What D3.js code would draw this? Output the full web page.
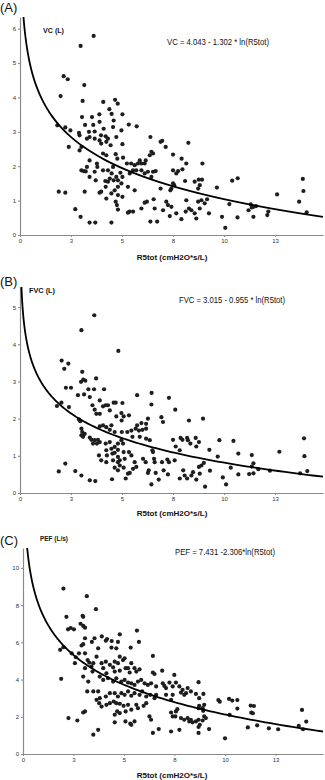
<!DOCTYPE html>
<html>
<head>
<meta charset="utf-8">
<script src="https://cdn.jsdelivr.net/npm/d3@7"></script>
<style>
  body { margin: 0; background: #fff; }
  svg { display: block; }
  text { font-family: "Liberation Sans", Arial, sans-serif; }
</style>
</head>
<body>
<svg id="chart" width="325" height="780"></svg>
<script>
// ---- data ----
const xTickValues = [0, 2.5, 5, 7.5, 10, 12.5];
const xTickLabels = ["0", "3", "5", "8", "10", "13"];
const xTitle = "R5tot (cmH2O*s/L)";

const vcTicks = [0, 1, 2, 3, 4, 5, 6];
const fvcTicks = [0, 1, 2, 3, 4, 5];
const pefTicks = [0, 2, 4, 6, 8, 10];

// fit: y = a - b * ln(R5tot)
const vcFit = [4.043, 1.302];
const fvcFit = [3.015, 0.955];
const pefFit = [7.431, 2.306];

const vcPoints = [
  [2.97,5.50],[3.61,5.79],[2.14,4.62],[2.34,4.53],[3.15,4.36],[1.99,4.04],[3.07,3.90],[4.08,3.87],[4.66,3.93],[4.79,3.82],
  [4.38,3.66],[4.49,3.52],[5.02,3.51],[3.89,3.51],[3.04,3.43],[3.53,3.43],[4.59,3.33],[5.33,3.21],[5.72,3.16],[1.83,3.19],
  [2.22,3.13],[3.19,3.20],[3.59,3.20],[2.47,3.04],[2.89,2.97],[2.92,2.90],[3.38,3.00],[3.66,3.01],[3.90,3.29],[4.10,3.09],
  [3.97,2.90],[4.20,2.87],[4.31,2.80],[4.56,3.14],[4.72,2.85],[4.97,3.04],[3.41,2.85],[3.66,2.80],[3.90,2.75],[3.98,2.66],
  [4.23,2.71],[4.44,2.61],[3.01,2.56],[3.28,2.80],[2.39,2.56],[2.92,2.46],[5.02,2.64],[6.39,2.85],[6.89,2.71],[6.97,2.74],
  [8.25,2.68],[4.07,2.37],[4.23,2.32],[4.69,2.35],[4.77,2.22],[3.41,2.17],[3.77,2.08],[3.79,1.98],[3.66,1.84],[4.07,1.88],
  [4.31,1.88],[4.49,1.79],[4.56,1.98],[4.72,1.69],[5.05,2.25],[5.24,2.08],[5.45,2.08],[5.62,2.03],[5.78,2.08],[5.87,2.17],
  [5.95,2.08],[6.11,2.08],[6.16,2.17],[6.36,2.32],[6.52,2.37],[6.44,2.42],[5.54,1.88],[5.70,1.88],[5.38,1.79],[5.95,1.88],
  [6.27,1.84],[6.52,1.84],[6.44,1.69],[7.14,2.56],[7.50,2.34],[7.50,1.88],[7.75,1.86],[7.92,2.22],[8.15,2.08],[7.96,1.91],
  [7.66,1.79],[8.94,2.08],[8.09,1.57],[8.56,1.55],[8.76,1.61],[8.92,1.61],[8.73,1.35],[8.81,1.45],[7.50,1.50],[7.56,1.45],
  [7.42,1.35],[7.37,1.30],[6.89,1.35],[6.65,1.86],[6.11,1.79],[5.62,1.30],[5.29,1.40],[4.97,1.50],[4.80,1.40],[4.64,1.30],
  [4.48,1.21],[4.80,1.16],[5.02,1.11],[4.69,0.97],[4.23,1.06],[3.98,1.26],[3.90,1.23],[4.20,1.40],[4.31,1.55],[4.18,1.57],
  [4.40,1.64],[4.59,1.59],[4.80,1.59],[5.02,1.69],[4.92,1.81],[3.17,1.26],[1.90,1.26],[2.22,1.23],[2.71,0.75],[2.97,0.53],
  [3.41,0.36],[3.69,0.36],[4.48,0.36],[4.80,0.74],[4.75,0.87],[5.29,0.65],[5.37,0.68],[5.54,0.68],[5.95,0.77],[6.11,0.94],
  [6.22,0.97],[6.39,0.39],[6.60,0.77],[6.55,1.04],[6.72,0.39],[7.17,0.97],[7.25,0.87],[7.01,0.72],[7.42,0.82],[7.34,0.55],
  [7.66,0.63],[7.91,0.46],[8.12,0.68],[8.15,1.01],[8.28,0.77],[8.40,0.72],[8.56,0.63],[8.64,0.48],[8.81,0.77],[8.73,0.97],
  [8.89,1.01],[9.05,0.92],[9.17,1.04],[9.26,0.63],[3.01,1.88],[3.12,1.86],[3.22,1.85],[3.41,1.69],[3.71,1.59],[3.28,1.98],
  [9.65,1.38],[10.40,1.58],[10.67,1.65],[9.90,0.53],[10.06,0.21],[10.26,0.90],[10.66,0.51],[11.20,0.72],[11.31,0.89],[11.36,0.80],
  [11.44,0.82],[11.57,0.84],[11.44,0.53],[12.12,0.58],[12.17,0.68],[12.60,1.18],[13.86,1.63],[13.89,1.28],[13.68,0.97],[14.05,0.66]
];

const fvcPoints = [
  [3.64,4.78],[3.01,4.38],[4.82,3.82],[2.04,3.56],[2.37,3.48],[2.17,3.34],[3.05,3.26],[3.73,3.08],[2.99,2.99],[3.10,3.05],
  [3.20,3.02],[2.25,2.83],[2.50,2.83],[3.35,2.79],[3.63,2.79],[4.12,2.79],[1.81,2.34],[2.03,2.43],[2.40,2.31],[2.84,2.63],
  [3.14,2.65],[3.42,2.58],[3.91,2.49],[3.55,2.36],[3.66,2.24],[3.74,2.13],[3.91,2.13],[4.07,2.33],[4.20,2.36],[4.31,2.36],
  [4.40,2.22],[4.59,2.43],[4.69,2.43],[5.02,2.42],[4.97,2.15],[5.08,2.06],[5.34,2.09],[4.72,2.06],[4.98,1.95],[5.74,2.63],
  [6.44,2.38],[6.45,2.69],[7.30,2.56],[7.61,2.24],[6.93,2.04],[7.01,1.91],[8.28,1.95],[8.97,2.00],[6.27,2.00],[6.18,1.86],
  [5.95,1.88],[5.74,1.82],[5.67,1.73],[5.83,1.68],[6.00,1.70],[6.18,1.73],[5.46,1.68],[5.26,1.64],[5.51,1.51],[4.99,1.64],
  [4.64,1.64],[4.48,1.82],[4.07,1.82],[3.91,1.79],[4.23,1.77],[4.40,1.70],[2.89,1.98],[2.95,1.93],[3.01,1.73],[3.05,1.64],
  [3.01,1.55],[3.17,1.59],[3.09,1.51],[3.42,1.49],[3.50,1.43],[3.66,1.42],[3.82,1.43],[3.91,1.37],[3.58,1.33],[3.77,1.33],
  [4.20,1.33],[4.40,1.37],[4.23,1.15],[4.48,1.19],[4.64,1.24],[4.64,1.08],[4.80,1.33],[4.97,1.42],[5.05,1.33],[4.80,1.16],
  [5.08,1.10],[4.80,0.97],[4.53,1.06],[4.26,1.01],[3.87,1.01],[3.98,0.88],[4.23,0.83],[4.56,0.88],[4.80,0.83],[4.89,0.88],
  [5.13,0.92],[4.89,0.74],[5.08,0.68],[4.64,0.68],[4.80,0.61],[5.34,1.10],[5.46,1.01],[5.62,0.83],[5.70,0.70],[5.54,0.65],
  [5.38,0.54],[5.29,0.52],[5.18,0.39],[6.03,0.92],[6.16,0.83],[5.87,1.51],[6.18,1.46],[6.36,1.42],[6.49,1.15],[6.52,1.10],
  [6.57,0.92],[6.60,0.83],[6.31,0.61],[6.27,0.54],[6.65,0.54],[6.44,0.23],[6.80,0.36],[6.96,0.83],[7.30,0.83],[7.22,0.90],
  [7.04,0.61],[7.25,0.50],[7.50,1.43],[7.63,1.25],[7.58,0.88],[7.83,1.15],[7.87,1.48],[7.96,1.43],[8.19,1.48],[8.23,1.42],
  [8.35,1.33],[8.64,1.25],[8.77,1.37],[8.61,1.48],[8.00,0.61],[8.07,0.47],[7.83,0.39],[8.19,0.39],[8.40,0.47],[8.48,0.56],
  [8.64,0.36],[8.81,0.52],[8.89,0.74],[8.77,0.70],[9.01,0.81],[9.07,0.17],[9.31,0.60],[9.28,1.16],[9.77,1.42],[9.69,0.98],
  [9.94,0.42],[10.10,0.23],[10.46,1.40],[10.70,1.06],[10.33,0.68],[10.70,0.50],[11.23,0.51],[11.36,1.02],[11.44,0.80],[11.36,0.71],
  [11.68,0.64],[11.44,0.53],[12.25,0.60],[12.71,1.11],[13.73,0.53],[13.92,1.47],[13.94,0.99],[14.08,0.59],[1.90,0.58],[2.22,0.79],
  [2.71,0.59],[3.01,0.47],[3.42,0.34],[3.69,0.32],[4.51,0.37]
];

const pefPoints = [
  [2.00,8.89],[3.16,8.48],[3.61,7.78],[2.15,7.37],[2.98,7.37],[2.95,7.43],[2.23,6.70],[2.36,6.77],[2.52,6.70],[2.85,7.00],
  [2.98,6.88],[3.07,6.79],[5.64,6.63],[5.74,6.02],[4.79,6.43],[3.90,6.32],[3.54,6.22],[3.07,6.22],[4.16,6.18],[4.10,6.09],
  [2.90,5.83],[2.98,5.90],[3.41,6.02],[4.39,6.07],[4.70,6.02],[3.72,5.68],[4.38,5.72],[4.62,5.68],[5.33,5.72],[1.84,5.60],
  [2.00,5.74],[2.41,5.41],[1.89,4.04],[2.57,4.88],[2.62,5.20],[2.77,5.41],[3.07,5.41],[3.20,5.05],[3.28,4.91],[3.39,4.70],
  [3.07,4.61],[3.44,4.43],[2.98,4.16],[3.23,3.89],[3.18,3.36],[3.48,4.88],[3.64,5.23],[3.89,4.88],[3.97,4.61],[4.10,4.96],
  [4.30,4.79],[4.46,4.66],[4.54,4.96],[4.70,4.88],[4.79,5.23],[4.95,5.05],[5.03,5.14],[5.08,4.61],[5.20,4.61],[5.28,4.38],
  [5.52,4.61],[5.61,4.43],[5.77,4.55],[5.36,4.88],[4.54,4.43],[4.79,4.48],[4.13,4.34],[3.80,4.16],[3.97,3.98],[4.21,4.07],
  [4.46,3.89],[4.62,4.07],[4.87,3.89],[5.03,3.98],[5.20,3.84],[5.36,3.80],[5.52,3.71],[5.69,3.89],[5.85,3.98],[6.02,3.80],
  [6.18,3.71],[6.34,3.80],[6.43,4.38],[6.43,5.27],[6.51,4.30],[6.59,3.63],[6.89,4.48],[6.92,3.80],[7.00,3.66],[7.25,3.84],
  [7.08,3.54],[7.49,4.25],[7.57,3.84],[7.41,3.63],[7.74,3.63],[7.90,3.45],[8.15,3.54],[8.07,3.27],[7.82,3.30],[8.31,3.36],
  [8.69,3.86],[8.56,3.23],[8.72,3.00],[8.93,3.23],[7.98,3.18],[7.41,3.18],[7.33,2.91],[7.08,3.18],[6.59,3.18],[6.51,3.00],
  [6.30,3.18],[6.10,3.09],[5.90,3.36],[5.77,3.18],[5.52,3.27],[5.36,3.13],[5.20,3.36],[5.03,3.18],[4.87,3.27],[4.70,3.09],
  [4.54,3.27],[4.30,3.27],[4.10,3.09],[3.80,3.00],[3.64,2.91],[3.72,3.36],[3.48,3.36],[3.77,2.73],[3.89,2.55],[4.13,2.64],
  [4.30,2.73],[4.49,2.82],[4.62,2.73],[4.79,2.70],[4.98,2.59],[5.20,2.64],[4.66,2.29],[4.54,2.11],[5.08,2.29],[4.79,2.20],
  [5.36,2.38],[5.61,2.64],[5.69,2.46],[5.97,2.59],[6.10,2.73],[6.26,2.02],[6.34,1.84],[6.43,1.13],[6.72,1.34],[5.52,1.75],
  [5.31,1.63],[5.36,1.57],[5.07,1.75],[4.54,1.70],[3.72,1.30],[3.48,1.04],[2.98,2.23],[3.07,2.29],[2.69,1.80],[2.25,1.93],
  [7.33,2.23],[7.41,2.02],[7.54,2.02],[7.57,2.29],[7.64,2.41],[7.33,1.21],[7.74,1.30],[7.82,1.93],[7.98,1.84],[8.15,1.93],
  [8.23,1.75],[8.31,1.84],[8.39,1.70],[8.56,1.75],[8.69,1.84],[8.69,1.45],[8.69,1.13],[8.75,1.57],[8.89,1.80],[8.97,2.02],
  [9.05,1.93],[9.21,1.34],[8.69,2.46],[8.72,2.59],[8.89,2.46],[8.97,2.64],[8.92,2.32],[9.67,2.90],[9.74,2.81],[10.00,0.84],
  [10.20,2.96],[10.36,2.87],[10.61,2.90],[10.61,2.44],[10.23,2.10],[11.13,1.43],[11.27,2.60],[11.43,2.58],[11.30,2.22],[11.38,2.19],
  [11.59,1.54],[12.17,1.38],[12.63,1.33],[13.65,1.51],[13.81,2.37],[13.86,1.33],[14.02,1.74]
];

// ---- layout ----
const svg = d3.select("#chart");
const xMax = 14.85;

const panels = [
  { tag: "(A)", tagY: 12, yTitle: "VC (L)", yTitleX: 43, yTitleY: 33, yTitleW: 21,
    eq: "VC = 4.043 - 1.302 * ln(R5tot)", eqX: 167, eqY: 45, eqW: 102,
    fit: vcFit, pts: vcPoints, ticks: vcTicks, yMax: 6.34,
    left: 20, top: 17, bottom: 235, xTitleY: 260 },
  { tag: "(B)", tagY: 286, yTitle: "FVC (L)", yTitleX: 29, yTitleY: 293, yTitleW: 26,
    eq: "FVC = 3.015 - 0.955 * ln(R5tot)", eqX: 179, eqY: 303, eqW: 106,
    fit: fvcFit, pts: fvcPoints, ticks: fvcTicks, yMax: 5.54,
    left: 20, top: 287, bottom: 493, xTitleY: 516 },
  { tag: "(C)", tagY: 545, yTitle: "PEF (L/s)", yTitleX: 40, yTitleY: 541, yTitleW: 28,
    eq: "PEF = 7.431 -2.306*ln(R5tot)", eqX: 175, eqY: 555, eqW: 100,
    fit: pefFit, pts: pefPoints, ticks: pefTicks, yMax: 11.07,
    left: 23, top: 548, bottom: 754, xTitleY: 778 }
];

panels.forEach(p => {
  const g = svg.append("g");
  const x = d3.scaleLinear().domain([0, xMax]).range([p.left, 323]);
  const y = d3.scaleLinear().domain([0, p.yMax]).range([p.bottom, p.top]);

  // axes
  const xAxis = g.append("g")
    .attr("transform", `translate(0,${p.bottom})`)
    .call(d3.axisBottom(x).tickValues(xTickValues)
      .tickFormat((d, i) => xTickLabels[i]).tickSize(2).tickSizeOuter(0).tickPadding(2));
  const yAxis = g.append("g")
    .attr("transform", `translate(${p.left},0)`)
    .call(d3.axisLeft(y).tickValues(p.ticks).tickFormat(d3.format("d"))
      .tickSize(2).tickSizeOuter(0).tickPadding(2));

  [xAxis, yAxis].forEach(a => {
    a.select(".domain").attr("stroke", "#8a8a8a").attr("stroke-width", 1.2);
    a.selectAll(".tick line").attr("stroke", "#8a8a8a");
    a.selectAll(".tick text").attr("font-size", 6).attr("fill", "#333")
      .attr("font-family", '"Liberation Sans", Arial, sans-serif');
  });

  // points
  g.append("g").selectAll("circle")
    .data(p.pts)
    .join("circle")
    .attr("cx", d => x(d[0]))
    .attr("cy", d => y(d[1]))
    .attr("r", 2.1)
    .attr("fill", "#1e1e1e");

  // fitted log curve, from where it leaves the top of the axis
  const x0 = Math.exp((p.fit[0] - p.yMax) / p.fit[1]);
  const curve = d3.range(0, 201).map(i => {
    const v = Math.exp(Math.log(x0) + (Math.log(xMax) - Math.log(x0)) * i / 200);
    return [v, p.fit[0] - p.fit[1] * Math.log(v)];
  });
  g.append("path")
    .datum(curve)
    .attr("fill", "none")
    .attr("stroke", "#000")
    .attr("stroke-width", 1.8)
    .attr("d", d3.line().x(d => x(d[0])).y(d => y(d[1])));

  // texts
  g.append("text").attr("x", 0).attr("y", p.tagY)
    .attr("font-size", 13).attr("fill", "#111").text(p.tag);
  g.append("text").attr("x", p.yTitleX).attr("y", p.yTitleY)
    .attr("font-size", 7.5).attr("font-weight", "bold").attr("fill", "#111")
    .attr("textLength", p.yTitleW).attr("lengthAdjust", "spacingAndGlyphs")
    .text(p.yTitle);
  g.append("text").attr("x", p.eqX).attr("y", p.eqY)
    .attr("font-size", 8.5).attr("fill", "#111")
    .attr("textLength", p.eqW).attr("lengthAdjust", "spacingAndGlyphs")
    .text(p.eq);
  g.append("text").attr("x", 172).attr("y", p.xTitleY)
    .attr("text-anchor", "middle")
    .attr("font-size", 8).attr("font-weight", "bold").attr("fill", "#111")
    .text(xTitle);
});
</script>
</body>
</html>
